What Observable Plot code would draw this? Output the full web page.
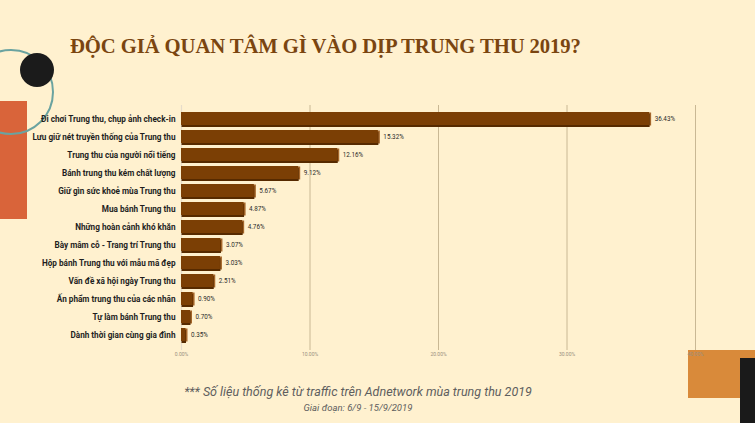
<!DOCTYPE html>
<html>
<head>
<meta charset="utf-8">
<script src="https://cdn.jsdelivr.net/npm/d3@7"></script>
<script src="https://cdn.jsdelivr.net/npm/@observablehq/plot@0.6"></script>
<style>
  html, body { margin: 0; padding: 0; }
  body { width: 755px; height: 423px; background: #fff1cf; position: relative; overflow: hidden; font-family: Roboto, "Noto Sans", sans-serif; }
  .deco { position: absolute; }
  #title { position: absolute; left: 70px; top: 35px; font-family: "Liberation Serif", "DejaVu Serif", serif; font-weight: bold; font-size: 20.7px; color: #7a4510; white-space: nowrap; letter-spacing: -0.1px; }
  #chart { position: absolute; left: 0; top: 0; }
  .foot { position: absolute; left: 0; width: 716px; text-align: center; font-family: Roboto, sans-serif; font-style: italic; color: #5e5e5e; white-space: nowrap; }
</style>
</head>
<body>
<div class="deco" style="left:0;top:101px;width:27px;height:118px;background:#d9643a;"></div>
<div class="deco" style="left:-32px;top:49px;width:86px;height:86px;border:2px solid #6aa3a0;border-radius:50%;box-sizing:border-box;"></div>
<div class="deco" style="left:20px;top:53px;width:34px;height:34px;background:#1b1b1b;border-radius:50%;"></div>
<div class="deco" style="left:688px;top:350px;width:67px;height:48px;background:#d98a3a;"></div>
<div class="deco" style="left:740px;top:358px;width:15px;height:65px;background:#1a1a1a;"></div>
<div id="title">ĐỘC GIẢ QUAN TÂM GÌ VÀO DỊP TRUNG THU 2019?</div>
<div id="chart"></div>
<div class="foot" style="top:384px;font-size:12.5px;">*** Số liệu thống kê từ traffic trên Adnetwork mùa trung thu 2019</div>
<div class="foot" style="top:402px;font-size:9.5px;">Giai đoạn: 6/9 - 15/9/2019</div>
<script>
const categories = [
  "Đi chơi Trung thu, chụp ảnh check-in",
  "Lưu giữ nét truyền thống của Trung thu",
  "Trung thu của người nổi tiếng",
  "Bánh trung thu kém chất lượng",
  "Giữ gìn sức khoẻ mùa Trung thu",
  "Mua bánh Trung thu",
  "Những hoàn cảnh khó khăn",
  "Bày mâm cỗ - Trang trí Trung thu",
  "Hộp bánh Trung thu với mẫu mã đẹp",
  "Vấn đề xã hội ngày Trung thu",
  "Ấn phẩm trung thu của các nhãn",
  "Tự làm bánh Trung thu",
  "Dành thời gian cùng gia đình"
];
const values = [36.43, 15.32, 12.16, 9.12, 5.67, 4.87, 4.76, 3.07, 3.03, 2.51, 0.90, 0.70, 0.35];
const xTicks = [0, 10, 20, 30, 40];
const gridTicks = [10, 20, 30, 40];

const data = categories.map((c, i) => ({cat: c, v: values[i]}));

const chart = Plot.plot({
  width: 755,
  height: 423,
  marginLeft: 181,
  marginRight: 60,
  marginTop: 105,
  marginBottom: 73,
  style: {background: "transparent", fontFamily: "Roboto, sans-serif"},
  x: {domain: [0, 40], ticks: xTicks, tickFormat: d => d.toFixed(2) + "%", label: null},
  y: {domain: categories, paddingInner: 0.28, paddingOuter: 0.14, insetTop: 2, insetBottom: 5, label: null},
  marks: [
    Plot.ruleX(gridTicks, {stroke: "#c9b894", strokeWidth: 1}),
    Plot.ruleX([0], {stroke: "#e6dccb", strokeWidth: 1.2}),
    Plot.axisX({ticks: xTicks, tickFormat: d => d.toFixed(2) + "%", tickSize: 0, tickPadding: 2, fontSize: 5, fill: "#9a9080"}),
    Plot.axisY({tickSize: 0, tickPadding: 6, fontSize: 8.2, fontWeight: "bold", fill: "#1e1e1e"}),
    Plot.barX(data, {x: "v", y: "cat", fill: "#a4662a", dx: 2, dy: 0.5}),
    Plot.barX(data, {x: "v", y: "cat", fill: "#562a00", dy: 2, dx: 0.5}),
    Plot.barX(data, {x: "v", y: "cat", fill: "#7b3f05"}),
    Plot.text(data, {x: "v", y: "cat", text: d => d.v.toFixed(2) + "%", dx: 5, textAnchor: "start", fontSize: 6.3, fill: "#2a2a2a"})
  ]
});
document.getElementById("chart").appendChild(chart);
</script>
</body>
</html>
